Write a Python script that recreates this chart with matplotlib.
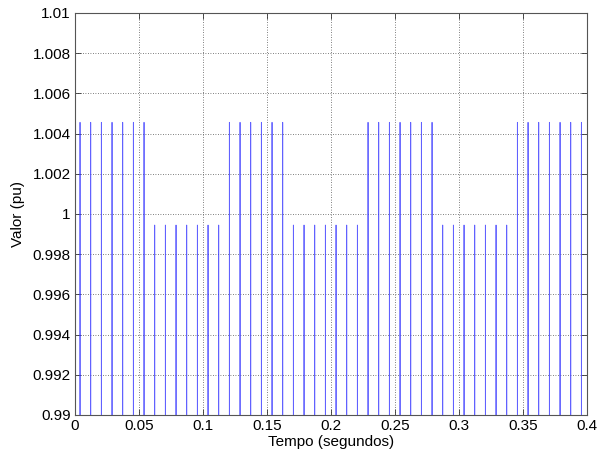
import matplotlib
matplotlib.use("Agg")
import matplotlib.pyplot as plt
import numpy as np

# Peak instants of the rectified waveform (one every half cycle of 60 Hz)
SPIKE_TIMES = [0.00417 + k / 120 for k in range(48)]

HIGH_PEAK = 1.00456
LOW_PEAK = 0.99945

# Peak level for each half cycle, in order
PEAK_LEVELS = (
    [HIGH_PEAK] * 7
    + [LOW_PEAK] * 7
    + [HIGH_PEAK] * 6
    + [LOW_PEAK] * 7
    + [HIGH_PEAK] * 7
    + [LOW_PEAK] * 7
    + [HIGH_PEAK] * 7
)

# Level of the waveform between peaks (well below the visible window)
TROUGH_LEVEL = 0.98
HALF_WIDTH = 0.00003

X_TICKS = [0, 0.05, 0.1, 0.15, 0.2, 0.25, 0.3, 0.35, 0.4]
Y_TICKS = [0.99, 0.992, 0.994, 0.996, 0.998, 1.0, 1.002, 1.004, 1.006, 1.008, 1.01]
Y_TICK_LABELS = ["0.99", "0.992", "0.994", "0.996", "0.998", "1",
                 "1.002", "1.004", "1.006", "1.008", "1.01"]
X_TICK_LABELS = ["0", "0.05", "0.1", "0.15", "0.2", "0.25", "0.3", "0.35", "0.4"]


def build_trace():
    """Connect each peak to the troughs on both sides."""
    xs, ys = [], []
    for t, peak in zip(SPIKE_TIMES, PEAK_LEVELS):
        xs += [t - HALF_WIDTH, t, t + HALF_WIDTH]
        ys += [TROUGH_LEVEL, peak, TROUGH_LEVEL]
    return np.array(xs), np.array(ys)


def main():
    plt.rcParams["font.family"] = ["Liberation Sans", "DejaVu Sans"]

    fig = plt.figure(figsize=(5.99, 4.59), dpi=100)
    ax = fig.add_axes([0.1247, 0.0959, 0.8548, 0.8758])

    xs, ys = build_trace()
    ax.plot(xs, ys, color="#3a3aff", linewidth=0.6, alpha=0.8)

    ax.set_xlim(0, 0.4)
    ax.set_ylim(0.99, 1.01)
    ax.set_xticks(X_TICKS)
    ax.set_xticklabels(X_TICK_LABELS)
    ax.set_yticks(Y_TICKS)
    ax.set_yticklabels(Y_TICK_LABELS)

    ax.grid(True, color="#555555", linestyle=(0, (1, 2)), linewidth=0.6)
    ax.tick_params(direction="in", length=4, width=0.6, labelsize=11, pad=3,
                   top=True, right=True, colors="#333333", labelcolor="black")
    for spine in ax.spines.values():
        spine.set_color("#555555")
        spine.set_linewidth(0.8)

    ax.set_xlabel("Tempo (segundos)", fontsize=11, labelpad=1)
    ax.set_ylabel("Valor (pu)", fontsize=11, labelpad=5)

    fig.savefig("out.png", dpi=100)
    plt.close(fig)


if __name__ == "__main__":
    main()
